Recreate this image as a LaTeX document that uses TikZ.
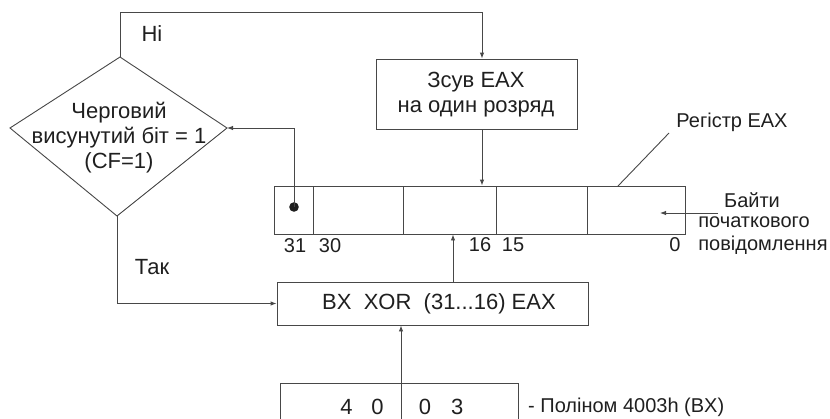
\documentclass[tikz,border=0pt]{standalone}
\usepackage{fontspec}
\setmainfont{Liberation Sans}
\usetikzlibrary{arrows.meta,calc}
\begin{document}
\begin{tikzpicture}[x=1pt,y=-1pt,
  ln/.style={draw=black!72,line width=0.9pt},
  arr/.style={ln,-{Latex[length=6pt,width=4.5pt]}},
  box/.style={ln,rectangle,inner sep=0pt},
  txt/.style={text=black!88,font=\fontsize{22}{25}\selectfont,inner sep=0pt,align=center},
  lbl/.style={text=black!88,font=\fontsize{20}{23}\selectfont,inner sep=0pt}]
\useasboundingbox (0,0) rectangle (830,418);
\clip (0,0) rectangle (830,418);
% diamond
\coordinate (dN) at (120,57);
\coordinate (dE) at (227,128);
\coordinate (dS) at (117,216);
\coordinate (dW) at (10,128);
\draw[ln] (dN) -- (dE) -- (dS) -- (dW) -- cycle;
\node[txt] (cond) at (119,138) {Черговий\\висунутий біт = 1\\(CF=1)};
\node[txt] (no) at (152,34) {Ні};
\node[txt] (yes) at (152,267) {Так};
% shift box
\node[box,minimum width=201pt,minimum height=70pt] (shift) at (476.5,94) {};
\node[txt] (shifttxt) at (476,95) {Зсув EAX\\на один розряд};
% register
\node[box,minimum width=411pt,minimum height=48pt] (reg) at (479.5,210) {};
\foreach \x in {313,403,496,587} \draw[ln] (\x,186) -- (\x,234);
\coordinate (dot) at (294,207);
\fill[black!88] (dot) circle (4.8pt);
\node[lbl] (b31) at (295,246) {31};
\node[lbl] (b30) at (330,246) {30};
\node[lbl] (b16) at (480,245) {16};
\node[lbl] (b15) at (513,245) {15};
\node[lbl] (b0) at (675,245) {0};
% register label
\node[lbl] (reglbl) at (732,122) {Регістр EAX};
\coordinate (rl) at (669,133);
\draw[ln] (rl) -- (618,186);
\node[lbl] (in1) at (752,200) {Байти};
\node[lbl] (in2) at (754,222) {початкового};
\node[lbl] (in3) at (763,245) {повідомлення};
\coordinate (inS) at (718,213);
\draw[arr] (inS) -- (660,213);
% xor box
\node[box,minimum width=311pt,minimum height=43pt] (xor) at (432.5,303.5) {};
\node[txt] (xortxt) at (439,304) {BX\ \ XOR\ \ (31...16) EAX};
% polynomial box
\node[box,minimum width=238pt,minimum height=44pt] (poly) at (399,405) {};
\node[txt] (p1) at (362,406.5) {4\hspace{19pt}0};
\node[txt] (p2) at (441,406.5) {0\hspace{20pt}3};
\node[lbl,anchor=west] (polylbl) at (528,407) {- Поліном 4003h (BX)};
% connectors
\coordinate (t1) at (482,12);
\draw[arr] (dN) |- (t1) -- (t1 |- shift.north);
\draw[arr] (t1 |- shift.south) -- (t1 |- reg.north);
\draw[arr] (dot) |- (dE);
\draw[arr] (dS) |- (xor.west);
\coordinate (a2) at (453,0);
\draw[arr] (a2 |- xor.north) -- (a2 |- reg.south);
\coordinate (b1) at (401,0);
\draw[arr] (b1 |- poly.south) -- (b1 |- xor.south);
\end{tikzpicture}
\end{document}
